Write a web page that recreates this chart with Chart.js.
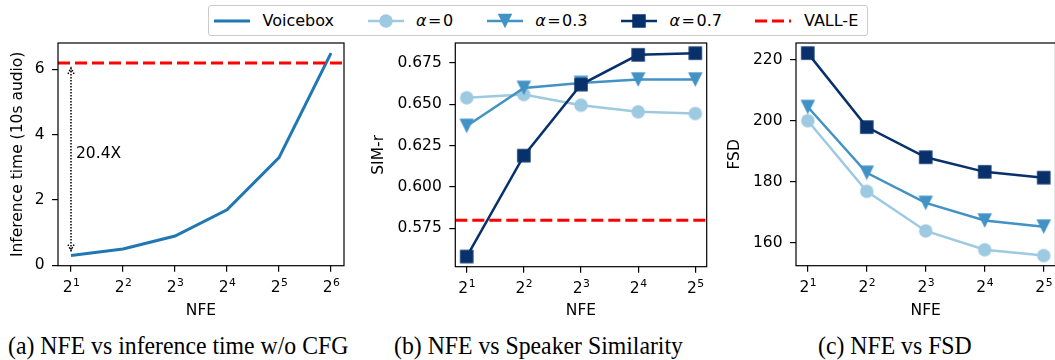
<!DOCTYPE html>
<html>
<head>
<meta charset="utf-8">
<script src="https://cdn.jsdelivr.net/npm/chart.js@4.4.1/dist/chart.umd.min.js"></script>
<style>
  body { margin: 0; width: 1055px; height: 360px; overflow: hidden; background: #fff; position: relative; font-family: 'DejaVu Sans', sans-serif; }
  canvas { position: absolute; top: 0; }
  #legend { position: absolute; left: 208px; top: 5px; width: 653px; height: 29px; border: 1px solid #ccc; border-radius: 3px;
            display: flex; align-items: center; padding-left: 5px; box-sizing: content-box; font-size: 16px; color: #000; }
  #legend .it { display: flex; align-items: center; margin-right: 33.5px; white-space: nowrap; }
  #legend svg { margin-right: 12.5px; }
  .cap { position: absolute; top: 332px; font-family: 'Liberation Serif', serif; font-size: 25px; line-height: 1.15; color: #000;
         white-space: nowrap; transform: scaleX(0.95); transform-origin: left center; }
</style>
</head>
<body>
<div id="legend"></div>
<canvas id="c1" width="350" height="320" style="left:0px"></canvas>
<canvas id="c2" width="370" height="320" style="left:350px"></canvas>
<canvas id="c3" width="345" height="320" style="left:720px"></canvas>
<div class="cap" style="left:8px">(a) NFE vs inference time w/o CFG</div>
<div class="cap" style="left:394px">(b) NFE vs Speaker Similarity</div>
<div class="cap" style="left:818px">(c) NFE vs FSD</div>

<script>
// data
const nfeBase = '2';
const nfeExp = ['1', '2', '3', '4', '5', '6'];
const voiceboxTime = [0.3, 0.5, 0.9, 1.7, 3.3, 6.5];
const valleTime = 6.2;
const speedup = '20.4X';

const alphaNames = ['α', 'α', 'α'];
const alphaValues = ['0', '0.3', '0.7'];
const simA0 = [0.654, 0.656, 0.6495, 0.6455, 0.6445];
const simA3 = [0.637, 0.660, 0.663, 0.665, 0.665];
const simA7 = [0.558, 0.619, 0.662, 0.680, 0.681];
const valleSim = 0.580;

const fsdA0 = [200.0, 176.8, 163.8, 157.6, 155.7];
const fsdA3 = [204.5, 182.9, 173.0, 167.2, 165.2];
const fsdA7 = [222.2, 197.9, 188.0, 183.2, 181.3];

const timeTicks = [0, 2, 4, 6];
const simTicks = [0.575, 0.600, 0.625, 0.650, 0.675];
const fsdTicks = [160, 180, 200, 220];

const colVoicebox = '#1f77b4';
const colA = ['#9ecae1', '#4292c6', '#08306b'];
const shapes = ['circle', 'tri', 'square'];

Chart.defaults.font.family = "'DejaVu Sans', sans-serif";
Chart.defaults.font.size = 15.5;
Chart.defaults.color = '#000';

function marker(shape, color, size) {
  const c = document.createElement('canvas');
  c.width = c.height = Math.ceil(size) + 2;
  const g = c.getContext('2d');
  const m = c.width / 2, h = size / 2;
  g.fillStyle = color;
  g.beginPath();
  if (shape == 'circle') g.arc(m, m, h, 0, Math.PI * 2);
  else if (shape == 'square') g.rect(m - h, m - h, size, size);
  else { g.moveTo(m - h, m - h); g.lineTo(m + h, m - h); g.lineTo(m, m + h); g.closePath(); }
  g.fill();
  return c;
}
const markerSize = { circle: 13.5, tri: 14.5, square: 13.5 };

// matplotlib style 5% margins
function pad(vals) {
  let lo = Math.min(...vals), hi = Math.max(...vals);
  let m = (hi - lo) * 0.05;
  return [lo - m, hi + m];
}

function pts(arr) { return arr.map((v, i) => ({ x: i, y: v })); }

function legendHtml() {
  let html = `<span class="it"><svg width="36" height="16"><line x1="0" y1="8" x2="36" y2="8" stroke="${colVoicebox}" stroke-width="3"/></svg>Voicebox</span>`;
  for (let i = 0; i < 3; i++) {
    let s = '';
    if (shapes[i] == 'circle') s = `<circle cx="18" cy="8" r="6.75" fill="${colA[i]}"/>`;
    else if (shapes[i] == 'square') s = `<rect x="11.25" y="1.25" width="13.5" height="13.5" fill="${colA[i]}"/>`;
    else s = `<polygon points="10.75,0.75 25.25,0.75 18,15.25" fill="${colA[i]}"/>`;
    html += `<span class="it"><svg width="36" height="16"><line x1="0" y1="8" x2="36" y2="8" stroke="${colA[i]}" stroke-width="2.5"/>${s}</svg><i>${alphaNames[i]}</i><span style="margin:0 1.5px">=</span>${alphaValues[i]}</span>`;
  }
  html += `<span class="it"><svg width="36" height="16"><line x1="0" y1="8" x2="36" y2="8" stroke="red" stroke-width="3" stroke-dasharray="12 5"/></svg>VALL-E</span>`;
  document.getElementById('legend').innerHTML = html;
}
legendHtml();

const framePlugin = {
  id: 'frame',
  afterDatasetsDraw(chart, args, opts) {
    const { ctx, chartArea: a, scales } = chart;
    ctx.save();
    if (opts.hline != null) {
      const y = scales.y.getPixelForValue(opts.hline);
      ctx.strokeStyle = 'red';
      ctx.lineWidth = 3;
      ctx.setLineDash([12, 5]);
      ctx.beginPath(); ctx.moveTo(a.left, y); ctx.lineTo(a.right, y); ctx.stroke();
    }
    ctx.setLineDash([]);
    ctx.strokeStyle = '#000';
    ctx.lineWidth = 1.2;
    ctx.strokeRect(a.left, a.top, a.right - a.left, a.bottom - a.top);
    ctx.restore();
  }
};

// x tick labels as 2^k with a raised, smaller exponent
const powerTicks = {
  id: 'powerTicks',
  afterDraw(chart) {
    const { ctx, chartArea: a, scales } = chart;
    const x = scales.x;
    ctx.save();
    ctx.fillStyle = '#000';
    ctx.textBaseline = 'alphabetic';
    ctx.textAlign = 'left';
    const base = a.bottom + 26;
    x.ticks.forEach(t => {
      const e = nfeExp[t.value];
      ctx.font = "15.5px 'DejaVu Sans'";
      const wb = ctx.measureText(nfeBase).width;
      ctx.font = "10.8px 'DejaVu Sans'";
      const we = ctx.measureText(e).width;
      const x0 = x.getPixelForValue(t.value) - (wb + we) / 2;
      ctx.font = "15.5px 'DejaVu Sans'";
      ctx.fillText(nfeBase, x0, base);
      ctx.font = "10.8px 'DejaVu Sans'";
      ctx.fillText(e, x0 + wb + 0.5, base - 5.7);
    });
    ctx.restore();
  }
};

// dotted double arrow + "20.4X"
const arrowPlugin = {
  id: 'arrow',
  afterDatasetsDraw(chart) {
    const { ctx, scales } = chart;
    const x = scales.x.getPixelForValue(0);
    const y1 = scales.y.getPixelForValue(valleTime) + 5;
    const y2 = scales.y.getPixelForValue(voiceboxTime[0]) - 5;
    ctx.save();
    ctx.strokeStyle = '#000';
    ctx.lineWidth = 1.5;
    ctx.setLineDash([1.5, 1.5]);
    ctx.beginPath();
    ctx.moveTo(x, y1); ctx.lineTo(x, y2);
    ctx.moveTo(x - 3, y1 + 6); ctx.lineTo(x, y1); ctx.lineTo(x + 3, y1 + 6);
    ctx.moveTo(x - 3, y2 - 6); ctx.lineTo(x, y2); ctx.lineTo(x + 3, y2 - 6);
    ctx.stroke();
    ctx.setLineDash([]);
    ctx.fillStyle = '#000';
    ctx.font = "15.5px 'DejaVu Sans'";
    ctx.textAlign = 'left';
    ctx.textBaseline = 'middle';
    ctx.fillText(speedup, x + 5, scales.y.getPixelForValue(3.4));
    ctx.restore();
  }
};

function makeChart(id, o) {
  const n = o.n;
  const xr = pad([0, n - 1]);
  const yr = o.yRange;
  return new Chart(document.getElementById(id), {
    type: 'line',
    data: { datasets: o.datasets },
    plugins: o.plugins.concat([powerTicks]),
    options: {
      responsive: false,
      animation: false,
      layout: { padding: { top: 43, right: o.right, left: 0, bottom: 0 } },
      plugins: { legend: { display: false }, tooltip: { enabled: false }, frame: { hline: o.hline } },
      scales: {
        x: {
          type: 'linear', min: xr[0], max: xr[1],
          afterBuildTicks: s => { s.ticks = nfeExp.slice(0, n).map((l, i) => ({ value: i })); },
          afterFit: s => { s.height = o.xh; },
          ticks: { callback: () => '', padding: 4, maxRotation: 0, autoSkip: false },
          grid: { drawOnChartArea: false, drawTicks: true, tickLength: 6, color: '#000', lineWidth: 1.2 },
          border: { display: false },
          title: { display: true, text: 'NFE', padding: { top: 0, bottom: 0 } }
        },
        y: {
          min: yr[0], max: yr[1],
          afterBuildTicks: s => { s.ticks = o.yTicks.map(v => ({ value: v })); },
          afterFit: s => { s.width = o.yw; },
          ticks: { callback: o.fmt, padding: 7.5 },
          grid: { drawOnChartArea: false, drawTicks: true, tickLength: 6, color: '#000', lineWidth: 1.2 },
          border: { display: false },
          title: { display: true, text: o.ylabel, padding: { top: o.tpad, bottom: 0 } }
        }
      }
    }
  });
}

function alphaSets(series) {
  return series.map((d, i) => ({
    data: pts(d),
    borderColor: colA[i],
    backgroundColor: colA[i],
    borderWidth: 2.5,
    pointStyle: marker(shapes[i], colA[i], markerSize[shapes[i]]),
    pointRadius: 7,
    tension: 0,
    order: 3 - i
  }));
}

makeChart('c1', {
  n: 6, right: 6, xh: 54.3, yw: 58, tpad: 9,
  yRange: pad(voiceboxTime), yTicks: timeTicks, fmt: v => String(v),
  ylabel: 'Inference time (10s audio)', hline: valleTime,
  plugins: [framePlugin, arrowPlugin],
  datasets: [{ data: pts(voiceboxTime), borderColor: colVoicebox, borderWidth: 3, pointRadius: 0, tension: 0 }]
});

makeChart('c2', {
  n: 5, right: 13.3, xh: 53.3, yw: 105.3, tpad: 20,
  yRange: pad(simA0.concat(simA3, simA7, [valleSim])), yTicks: simTicks, fmt: v => v.toFixed(3),
  ylabel: 'SIM-r', hline: valleSim,
  plugins: [framePlugin],
  datasets: alphaSets([simA0, simA3, simA7])
});

makeChart('c3', {
  n: 5, right: 3.6, xh: 54.3, yw: 76, tpad: 5.7,
  yRange: pad(fsdA0.concat(fsdA3, fsdA7)), yTicks: fsdTicks, fmt: v => String(v),
  ylabel: 'FSD', hline: null,
  plugins: [framePlugin],
  datasets: alphaSets([fsdA0, fsdA3, fsdA7])
});
</script>
</body>
</html>
